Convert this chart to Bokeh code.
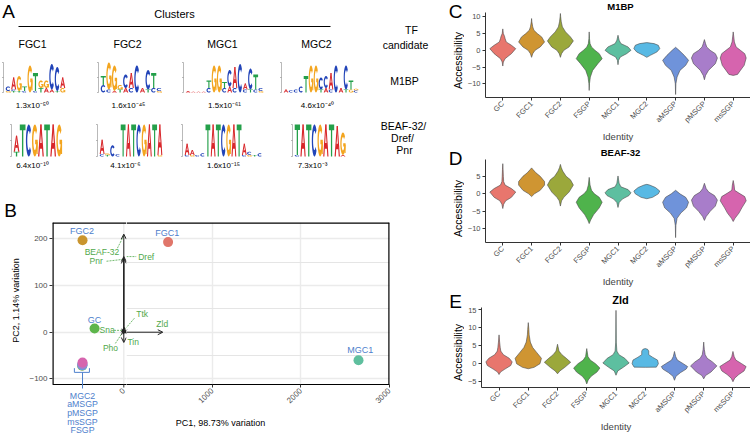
from math import pi
import numpy as np
from bokeh.plotting import figure
from bokeh.layouts import row, column
from bokeh.models import (Range1d, FixedTicker, Arrow, OpenHead, ColumnDataSource, Span,
                          Grid, LinearAxis)
from bokeh.core.properties import value
from bokeh.embed import file_html
from bokeh.resources import INLINE

FONT = "Liberation Sans"

# ------------------------------------------------------------------ data
clusters = ["FGC1", "FGC2", "MGC1", "MGC2"]
m1bp_pvals = ["1.3x10⁻⁵⁰", "1.6x10⁻⁴⁵", "1.5x10⁻⁶¹", "4.6x10⁻⁴⁰"]
beaf_pvals = ["6.4x10⁻¹⁰", "4.1x10⁻⁶", "1.6x10⁻¹⁵", "7.3x10⁻³"]

# motif logos: one entry per position, letters stacked bottom -> top as (base, bits)
m1bp_fgc1 = [
    [("G", 0.1), ("C", 0.3)], [("T", 0.1), ("C", 0.1), ("A", 0.8)], [("T", 0.1), ("G", 1.0)],
    [("C", 0.1), ("T", 0.3)], [("G", 1.8)], [("C", 0.1), ("T", 1.2)], [("T", 0.3), ("G", 0.5)],
    [("A", 0.3), ("G", 0.5)], [("A", 0.2), ("C", 1.7)], [("T", 0.1), ("C", 1.6)], [("G", 0.3), ("A", 0.7)],
]
m1bp_fgc2 = [
    [("C", 0.5), ("T", 0.6)], [("C", 0.2), ("G", 1.8)], [("A", 0.1), ("G", 1.7)], [("T", 0.2), ("G", 0.3)],
    [("A", 0.3), ("C", 0.9)], [("C", 0.3), ("A", 1.0)], [("C", 1.8)], [("A", 0.3)],
    [("T", 0.2), ("C", 1.3)], [("C", 0.3), ("T", 1.0)], [("G", 0.1), ("C", 0.2)],
]
m1bp_mgc1 = [
    [("A", 0.1)], [("A", 0.05)], [("A", 0.05)], [("A", 0.05)], [("C", 0.3), ("T", 0.5)],
    [("G", 1.8)], [("G", 1.8)], [("C", 0.3), ("T", 0.4)], [("A", 0.4), ("C", 1.1)],
    [("C", 0.3), ("A", 1.4)], [("C", 1.9)], [("C", 0.2), ("A", 0.4)], [("T", 0.2), ("C", 1.4)],
    [("C", 0.2), ("T", 1.0)], [("G", 0.1), ("C", 0.2)],
]
m1bp_mgc2 = [
    [("A", 0.2)], [("C", 0.15)], [("C", 0.2)], [("C", 0.4)], [("T", 1.1)], [("G", 1.8)],
    [("G", 1.8)], [("T", 0.2), ("C", 0.8)], [("A", 0.3), ("C", 0.8)], [("C", 0.2), ("A", 1.1)],
    [("C", 1.8)], [("A", 0.3)], [("T", 0.2), ("C", 1.6)], [("G", 0.2), ("T", 0.6)], [("C", 0.15), ("G", 0.1)],
]
beaf_fgc1 = [
    [("T", 0.3), ("A", 1.0)], [("T", 2.0)], [("C", 2.0)], [("G", 2.0)],
    [("A", 2.0)], [("T", 2.0)], [("A", 2.0)], [("G", 2.0)],
]
beaf_fgc2 = [
    [("C", 0.15), ("A", 0.9)], [("T", 0.1), ("G", 0.1)], [("C", 0.7)], [("C", 0.15)],
    [("T", 2.0)], [("A", 2.0)], [("T", 2.0)], [("C", 2.0)], [("G", 2.0)], [("A", 2.0)],
    [("T", 2.0)], [("G", 0.1), ("A", 1.9)],
]
beaf_mgc1 = [
    [("C", 0.1), ("A", 0.7)], [("G", 0.1), ("A", 0.3)], [("C", 0.1)], [("C", 0.2)],
    [("T", 2.0)], [("A", 2.0)], [("T", 2.0)], [("C", 2.0)], [("G", 2.0)], [("A", 2.0)],
    [("T", 2.0)], [("C", 0.1), ("A", 0.7)], [("G", 0.1), ("C", 0.2)], [("T", 0.1)], [("C", 0.2)],
]
beaf_mgc2 = [
    [("C", 0.1), ("T", 1.9)], [("A", 2.0)], [("T", 2.0)], [("C", 2.0)], [("G", 2.0)],
    [("A", 2.0)], [("T", 2.0)], [("A", 1.9)], [("A", 0.1), ("G", 1.4)],
]

# PCA of motif accessibility per cluster
pca_groups = ["FGC2", "FGC1", "GC", "MGC1", "FSGP", "MGC2", "aMSGP", "pMSGP", "msSGP"]
pc1 = [-466, 500, -330, 2650, -470, -468, -467, -466, -466]
pc2 = [197, 193, 8, -60, -72, -71, -70, -68, -65]
merged_groups = ["MGC2", "aMSGP", "pMSGP", "msSGP", "FSGP"]
tf_names = ["BEAF-32", "Dref", "Pnr", "Zld", "Tin", "Ttk", "Sna", "Pho"]
load_pc1 = [0, 0, 0, 440, 0, 6, -4, -4]
load_pc2 = [210, 162, 158, 0, -22, 10, 6, -4]

# chromVAR accessibility per identity (violin outlines: (value, half width))
identities = ["GC", "FGC1", "FGC2", "FSGP", "MGC1", "MGC2", "aMSGP", "pMSGP", "msSGP"]
m1bp_violins = [
    [(-4.7, 0), (-3.5, 0.02), (-2.5, 0.08), (-1, 0.3), (0.5, 0.45), (1.5, 0.3), (2.5, 0.12), (3.5, 0.08), (4.2, 0.06), (5, 0.02), (6.4, 0)],
    [(-2.1, 0), (-1, 0.04), (0, 0.12), (1, 0.3), (2.5, 0.45), (4, 0.35), (5, 0.2), (6, 0.08), (7, 0.04), (8.5, 0.01), (9.5, 0)],
    [(-2.1, 0), (-1, 0.04), (0, 0.12), (1, 0.3), (2.8, 0.45), (4, 0.35), (5.5, 0.18), (7, 0.07), (8.5, 0.03), (10, 0.01), (11, 0)],
    [(-12, 0), (-10, 0.01), (-8, 0.04), (-6, 0.12), (-4, 0.3), (-2.5, 0.45), (-1, 0.35), (0, 0.2), (1, 0.08), (2, 0.03), (3.5, 0.01), (5.5, 0)],
    [(-4.3, 0), (-3, 0.02), (-2, 0.08), (-1, 0.3), (0, 0.45), (1, 0.35), (2, 0.1), (3, 0.04), (4.5, 0)],
    [(-2.1, 0), (-1.5, 0.12), (-0.5, 0.35), (0.5, 0.45), (1.5, 0.4), (2.0, 0.25), (2.3, 0)],
    [(-13.2, 0), (-10, 0.01), (-8, 0.05), (-6, 0.15), (-4.5, 0.35), (-3, 0.45), (-1.5, 0.3), (0, 0.12), (0.9, 0)],
    [(-8.8, 0), (-7.5, 0.04), (-6, 0.14), (-4, 0.38), (-2.3, 0.45), (-1, 0.38), (0, 0.2), (1, 0.08), (2, 0.04), (3.2, 0)],
    [(-7.5, 0), (-7.2, 0.15), (-6, 0.25), (-4.5, 0.38), (-2.3, 0.45), (-1, 0.4), (0, 0.25), (1, 0.1), (2.5, 0.04), (4, 0.02), (5.5, 0)],
]
beaf_violins = [
    [(-4.2, 0), (-3, 0.03), (-2, 0.1), (-1, 0.3), (0.5, 0.45), (1.5, 0.3), (2.5, 0.08), (3.5, 0.03), (5, 0.02), (7, 0.01), (8.6, 0)],
    [(-0.8, 0), (0, 0.1), (1, 0.3), (2.5, 0.45), (3.5, 0.45), (5, 0.3), (6, 0.15), (7, 0.04), (7.4, 0)],
    [(-3.5, 0), (-2, 0.04), (-1, 0.12), (0.5, 0.3), (2.5, 0.45), (4, 0.35), (5, 0.2), (6.5, 0.08), (7.5, 0.03), (8.4, 0)],
    [(-8.5, 0), (-7.5, 0.05), (-6, 0.15), (-4, 0.35), (-2.4, 0.45), (-1, 0.35), (0, 0.18), (1, 0.08), (2.5, 0.03), (4.7, 0)],
    [(-3.9, 0), (-2.5, 0.04), (-1.5, 0.15), (-0.5, 0.38), (0.3, 0.45), (1.2, 0.35), (2, 0.1), (3, 0.04), (5.1, 0)],
    [(-1.4, 0), (-1, 0.2), (0, 0.4), (0.8, 0.45), (1.8, 0.3), (2.5, 0.1), (2.7, 0)],
    [(-12.5, 0), (-9, 0.01), (-7, 0.05), (-5.5, 0.18), (-4, 0.38), (-2.4, 0.45), (-1, 0.35), (0, 0.15), (1, 0)],
    [(-7.6, 0), (-6.5, 0.06), (-5, 0.2), (-3.5, 0.38), (-1.8, 0.45), (-0.5, 0.35), (0.5, 0.15), (1.5, 0.06), (3, 0)],
    [(-7.9, 0), (-7, 0.06), (-5.5, 0.2), (-4, 0.3), (-2, 0.45), (-0.8, 0.4), (0.2, 0.2), (1, 0.05), (2.5, 0.03), (3.8, 0)],
]
zld_violins = [
    [(-3, 0), (-2.3, 0.05), (-1.5, 0.2), (-0.5, 0.4), (0.5, 0.45), (1.5, 0.35), (2.5, 0.15), (3.5, 0.06), (4.5, 0.04), (6, 0.02), (8, 0)],
    [(-1.4, 0), (-1, 0.2), (0, 0.4), (1.5, 0.45), (3, 0.3), (4.5, 0.15), (6, 0.07), (8, 0.03), (9.5, 0.02), (11.4, 0)],
    [(-2.8, 0), (-2, 0.08), (-1, 0.25), (0.4, 0.45), (1.5, 0.3), (2.5, 0.15), (3.5, 0.05), (5.4, 0)],
    [(-5.6, 0), (-4.5, 0.05), (-3.5, 0.15), (-2.3, 0.35), (-1.2, 0.45), (0, 0.3), (1, 0.12), (2, 0.04), (4.2, 0)],
    [(-3.2, 0), (-2, 0.06), (-1, 0.25), (0.2, 0.45), (1.5, 0.3), (2.5, 0.1), (3.5, 0.03), (6, 0.01), (14.8, 0)],
    [(-1, 0), (-0.95, 0.38), (0, 0.45), (1, 0.42), (1.8, 0.25), (2.5, 0.12), (3.5, 0.12), (4.0, 0.08), (4.2, 0)],
    [(-4.6, 0), (-3.5, 0.05), (-2.5, 0.2), (-1.5, 0.4), (-0.8, 0.45), (0, 0.3), (1, 0.1), (2, 0.04), (3.4, 0)],
    [(-4.2, 0), (-3.3, 0.06), (-2.3, 0.25), (-0.6, 0.45), (0.5, 0.3), (1.5, 0.12), (2.5, 0.05), (4, 0.02), (6, 0)],
    [(-5, 0), (-4, 0.06), (-3, 0.2), (-2, 0.38), (-0.8, 0.45), (0, 0.3), (1, 0.1), (2, 0.04), (3.4, 0)],
]

# ------------------------------------------------------------------ styles
ident_colors = ["#E8766D", "#CF9532", "#9BA83B", "#4FB34C", "#5DBFA0", "#58B9E4", "#6F93DA", "#A87DCA", "#D664AE"]
pca_colors = ["#C9952F", "#E0766A", "#5DB54B", "#5FBF9E", "#9BA83B", "#58B9E4", "#6F93DA", "#A87DCA", "#D664AE"]
BASE_COLORS = {"A": "#D8262A", "C": "#2244B8", "G": "#F3A51F", "T": "#24A04A"}
BLUE_TXT = "#4E80CC"
GREEN_TXT = "#4FA84A"
TICK_TXT = "#4D4D4D"
GRID = "#EBEBEB"
COMMON = dict(toolbar_location=None, output_backend="svg", frame_align=False)


def text_panel(w, h):
    """Axis-free figure whose data units are pixels (y grows downwards)."""
    p = figure(width=w, height=h, x_range=Range1d(0, w), y_range=Range1d(h, 0),
               x_axis_location=None, y_axis_location=None, min_border=0, **COMMON)
    p.grid.visible = False
    p.outline_line_color = None
    return p


def put_text(p, xs, ys, texts, size, color="black", bold=False, angle=0.0, align="center"):
    if not texts:
        return
    p.text(x=xs, y=ys, text=texts, text_font=value(FONT), text_font_size=value(f"{size}px"),
           text_color=color, text_font_style="bold" if bold else "normal", angle=angle,
           text_align=align, text_baseline="middle")


def style_axis(ax, size):
    ax.major_tick_line_color = "#333333"
    ax.major_tick_out = 3
    ax.major_tick_in = 0
    ax.minor_tick_out = 0
    ax.minor_tick_in = 0
    ax.major_label_text_font = FONT
    ax.major_label_text_font_size = f"{size}px"
    ax.major_label_text_color = TICK_TXT
    ax.major_label_standoff = 2


def _arc(a0, a1, rxo, ryo, rxi, ryi, n=26):
    t = np.radians(np.linspace(a0, a1, n))
    xo, yo = 0.5 + rxo * np.cos(t), 0.5 + ryo * np.sin(t)
    xi, yi = 0.5 + rxi * np.cos(t[::-1]), 0.5 + ryi * np.sin(t[::-1])
    return list(np.r_[xo, xi]), list(np.r_[yo, yi])


# letter outlines in a unit box (x right, y up)
GLYPH_SHAPES = {
    "T": [([0, 1, 1, 0.62, 0.62, 0.38, 0.38, 0], [1, 1, 0.82, 0.82, 0, 0, 0.82, 0.82])],
    "A": [([0, 0.22, 0.6, 0.4], [0, 0, 1, 1]),
          ([0.78, 1, 0.6, 0.4], [0, 0, 1, 1]),
          ([0.24, 0.76, 0.7, 0.3], [0.24, 0.24, 0.42, 0.42])],
    "C": [_arc(40, 320, 0.5, 0.5, 0.26, 0.3)],
    "G": [_arc(40, 355, 0.5, 0.5, 0.26, 0.3),
          ([0.55, 1, 1, 0.8, 0.8, 0.55], [0.52, 0.52, 0.08, 0.08, 0.38, 0.38])],
}

# ------------------------------------------------------------------ panel A
pa = text_panel(440, 195)
logo_rows = [
    ([m1bp_fgc1, m1bp_fgc2, m1bp_mgc1, m1bp_mgc2], 92, 15.0, [5, 100, 185, 283], [5.45, 5.6, 5.2, 5.0]),
    ([beaf_fgc1, beaf_fgc2, beaf_mgc1, beaf_mgc2], 156, 16.0, [13, 99, 184, 294], [6.1, 5.25, 5.2, 5.7]),
]
lx, ly, lc = [], [], []
bx, by = [], []
for logos, base, ppb, starts, widths in logo_rows:
    for logo, x0, w in zip(logos, starts, widths):
        for j, col in enumerate(logo):
            cum = 0.0
            for ch, bits in col:
                for ux, uy in GLYPH_SHAPES[ch]:
                    lx.append([x0 + j * w + 0.2 + u * (w - 0.4) for u in ux])
                    ly.append([base - (cum + v * bits) * ppb for v in uy])
                    lc.append(BASE_COLORS[ch])
                cum += bits
        ax = x0 - 2
        bx.append([ax, ax]); by.append([base, base - 2 * ppb])
        for k in range(3):
            bx.append([ax - 1.5, ax]); by.append([base - k * ppb, base - k * ppb])
pa.multi_line(bx, by, line_color="#8a8a8a", line_width=0.6)
pa.patches(lx, ly, fill_color=lc, line_color=None)

put_text(pa, [8], [11], ["A"], 19)
put_text(pa, [174], [13], ["Clusters"], 11)
pa.segment(x0=[18], y0=[26], x1=[330], y1=[26], line_color="black", line_width=1)
put_text(pa, [32, 127, 222, 316], [43] * 4, clusters, 10.5)
put_text(pa, [32, 128, 224, 317], [105] * 4, m1bp_pvals, 8)
put_text(pa, [32, 125, 223, 312], [165] * 4, beaf_pvals, 8)
put_text(pa, [411, 405, 404, 403, 402, 404], [29, 44, 80, 125, 137, 149],
         ["TF", "candidate", "M1BP", "BEAF-32/", "Dref/", "Pnr"], 10.5)

# ------------------------------------------------------------------ panel B
# The PCA box spans canvas x 52..389, y 222..384 (relative to the page).  It is split
# at x=126: the left figure's frame runs down to the bottom of the canvas so that the
# merged-cluster names and the origin tick can be drawn under the box in data space.
B_LO, B_HI = -805, 3000
B_YLO, B_YHI = -112, 235
B_LEFT, B_RIGHT, B_SPLIT = 52, 389, 126
B_TOP, B_BOT = 27, 189                      # box edges inside the 240 px tall canvas
B_SCALE = (B_RIGHT - B_LEFT) / (B_HI - B_LO)
B_YSCALE = (B_BOT - B_TOP) / (B_YHI - B_YLO)
B_MID = B_LO + (B_SPLIT - B_LEFT) / B_SCALE
B_YEXT = B_YHI - (240 - B_TOP) / B_YSCALE   # data value at the canvas bottom
PC1_TITLE_AT = int(round(B_LO + (220 - B_LEFT) / B_SCALE))


def y_below(px):
    """PC2 value that sits px pixels under the bottom edge of the box."""
    return B_YLO - px / B_YSCALE


tf_lab_x = [-247, 253, -312, 434, 106, 208, -188, -150]
tf_lab_y = [171, 162, 152, 18, -20, 38, 4, -34]
pt_lab = ["FGC2", "FGC1", "GC", "MGC1"]
pt_lab_x = [-471, 491, -332, 2671]
pt_lab_y = [216, 213, 27, -39]
lead_x = [[-72, 0], [30, 140], [-195, -10], [120, 20], [-110, -5], [-95, -5]]
lead_y = [[180, 207], [162, 162], [152, 156], [30, 8], [4, 4], [-24, 2]]
loadings = ColumnDataSource(dict(x0=[0] * len(tf_names), y0=[0] * len(tf_names), x1=load_pc1, y1=load_pc2))


def draw_pca(p, left_part):
    def mine(xv):
        return (xv < B_MID) == left_part

    p.multi_line(lead_x, lead_y, line_color=GREEN_TXT, line_width=0.8, line_dash="2 1")
    p.add_layout(Arrow(source=loadings, x_start="x0", y_start="y0", x_end="x1", y_end="y1",
                       line_color="#222222", line_width=1,
                       end=OpenHead(size=5, line_color="#222222", line_width=1)))
    sel = [i for i, xv in enumerate(tf_lab_x) if mine(xv)]
    put_text(p, [tf_lab_x[i] for i in sel], [tf_lab_y[i] for i in sel], [tf_names[i] for i in sel],
             8.5, color=GREEN_TXT)
    p.scatter(pc1, pc2, size=10, fill_color=pca_colors, line_color=None)
    sel = [i for i, xv in enumerate(pt_lab_x) if mine(xv)]
    put_text(p, [pt_lab_x[i] for i in sel], [pt_lab_y[i] for i in sel], [pt_lab[i] for i in sel],
             9, color=BLUE_TXT)
    p.add_layout(Span(location=B_YHI, dimension="width", line_color="black", line_width=2.4))
    p.outline_line_color = None


pbl = figure(width=B_SPLIT - 24, height=240, x_range=Range1d(B_LO, B_MID), y_range=Range1d(B_YEXT, B_YHI),
             x_axis_location=None, min_border_left=B_LEFT - 24, min_border_right=0,
             min_border_top=B_TOP, min_border_bottom=0, **COMMON)
pbr = figure(width=440 - B_SPLIT, height=240, x_range=Range1d(B_MID, B_HI), y_range=Range1d(B_YLO, B_YHI),
             y_axis_location=None, min_border_left=0, min_border_right=440 - B_RIGHT,
             min_border_top=B_TOP, min_border_bottom=240 - B_BOT, **COMMON)

# left part: grid, box edges, origin tick and the merged-cluster names
pbl.xgrid.visible = False
pbl.yaxis.ticker = FixedTicker(ticks=[-100, 0, 100, 200])
pbl.ygrid.ticker = FixedTicker(ticks=[-100, 0, 100, 200])
pbl.ygrid.grid_line_color = GRID
pbl.ygrid.grid_line_width = 1.4
style_axis(pbl.yaxis[0], 8)
pbl.yaxis.axis_line_color = None
pbl.segment(x0=[0], y0=[B_YLO], x1=[0], y1=[B_YHI], line_color=GRID, line_width=1.4)
draw_pca(pbl, True)
pbl.segment(x0=[B_LO, B_LO], y0=[B_YLO, B_YLO], x1=[B_LO, B_MID], y1=[B_YHI, B_YLO],
            line_color="black", line_width=[2.4, 1.2])
pbl.segment(x0=[0], y0=[B_YLO], x1=[0], y1=[y_below(3)], line_color="#333333", line_width=1)
put_text(pbl, [0], [y_below(5)], ["0"], 8, color=TICK_TXT, angle=pi / 4, align="right")
pbl.multi_line([[-558, -558, -388, -388], [pc1[-1], pc1[-1]]], [[-77, -86, -86, -77], [-86, y_below(4)]],
               line_color=BLUE_TXT, line_width=1)
put_text(pbl, [pc1[-1]] * len(merged_groups), [y_below(11 + 8.7 * k) for k in range(len(merged_groups))],
         merged_groups, 8.8, color=BLUE_TXT)

# right part: library x axis, grid and box edges
pbr.xaxis.ticker = FixedTicker(ticks=[1000, 2000, 3000])
pbr.xgrid.ticker = FixedTicker(ticks=[1000, 2000, 3000])
pbr.xgrid.grid_line_color = GRID
pbr.xgrid.grid_line_width = 1.4
pbr.add_layout(Grid(dimension=1, ticker=FixedTicker(ticks=[-100, 0, 100, 200]),
                    grid_line_color=GRID, grid_line_width=1.4))
draw_pca(pbr, False)
pbr.xaxis.major_label_orientation = pi / 4
style_axis(pbr.xaxis[0], 8)
pbr.xaxis.axis_line_color = "black"
pbr.xaxis.axis_line_width = 1.2
pbr.add_layout(Span(location=B_HI, dimension="height", line_color="black", line_width=2.4))
pc1_axis = LinearAxis(ticker=FixedTicker(ticks=[PC1_TITLE_AT]),
                      major_label_overrides={PC1_TITLE_AT: "PC1, 98.73% variation"},
                      axis_line_color=None, major_tick_line_color=None, minor_tick_line_color=None,
                      major_tick_out=0, major_tick_in=0,
                      major_label_text_font=FONT, major_label_text_font_size="9px",
                      major_label_text_color="black", major_label_standoff=9)
pbr.add_layout(pc1_axis, "below")

pbs = text_panel(24, 240)
put_text(pbs, [10], [15], ["B"], 19)
put_text(pbs, [15], [105], ["PC2, 1.14% variation"], 9, angle=pi / 2)


# ------------------------------------------------------------------ panels C-E
def violin_panel(letter, title, title_size, profiles, y_lo, y_hi, ticks, top, bottom,
                 letter_y, title_y, acc_y):
    side = text_panel(24, 145)
    put_text(side, [15], [letter_y], [letter], 19)
    put_text(side, [17.5], [acc_y], ["Accessibility"], 10.5, angle=pi / 2)
    head = text_panel(286, top)
    put_text(head, [156], [title_y], [title], title_size, bold=True)

    p = figure(width=286, height=145 - top, x_range=Range1d(0.4, 9.6), y_range=Range1d(y_lo, y_hi),
               min_border_left=15, min_border_right=0, min_border_top=0, min_border_bottom=bottom, **COMMON)
    p.grid.visible = False
    p.outline_line_color = None
    xs, ys = [], []
    for i, prof in enumerate(profiles):
        c = i + 1
        yv = [pt[0] for pt in prof]
        hv = [pt[1] for pt in prof]
        xs.append([c + h for h in hv] + [c - h for h in hv[::-1]])
        ys.append(yv + yv[::-1])
    p.patches(xs, ys, fill_color=ident_colors, line_color="#4a4a4a", line_width=0.6)
    p.xaxis.ticker = FixedTicker(ticks=list(range(1, 10)))
    p.xaxis.major_label_overrides = {i + 1: c for i, c in enumerate(identities)}
    p.xaxis.major_label_orientation = pi / 4
    p.yaxis.ticker = FixedTicker(ticks=ticks)
    for ax in (p.xaxis[0], p.yaxis[0]):
        style_axis(ax, 7.5)
        ax.axis_line_color = "#333333"
        ax.axis_line_width = 1
    p.xaxis.axis_label = "Identity"
    p.xaxis.axis_label_text_font = FONT
    p.xaxis.axis_label_text_font_size = "9.5px"
    p.xaxis.axis_label_text_font_style = "normal"
    p.xaxis.axis_label_standoff = 1
    return row(side, column(head, p))


pc = violin_panel("C", "M1BP", 9.5, m1bp_violins, -14.1, 11.3, [-10, -5, 0, 5, 10], 12, 40, 11, 6, 60)
pd_ = violin_panel("D", "BEAF-32", 9.5, beaf_violins, -13.9, 9.8, [-10, -5, 0, 5], 14, 39, 13, 6.5, 63)
pe = violin_panel("E", "Zld", 11, zld_violins, -6.6, 15.6, [-5, 0, 5, 10, 15], 17, 36, 11, 9.5, 62)

layout = row(column(pa, row(pbs, pbl, pbr)), column(pc, pd_, pe))
open("out.html", "w").write(file_html(layout, INLINE))
